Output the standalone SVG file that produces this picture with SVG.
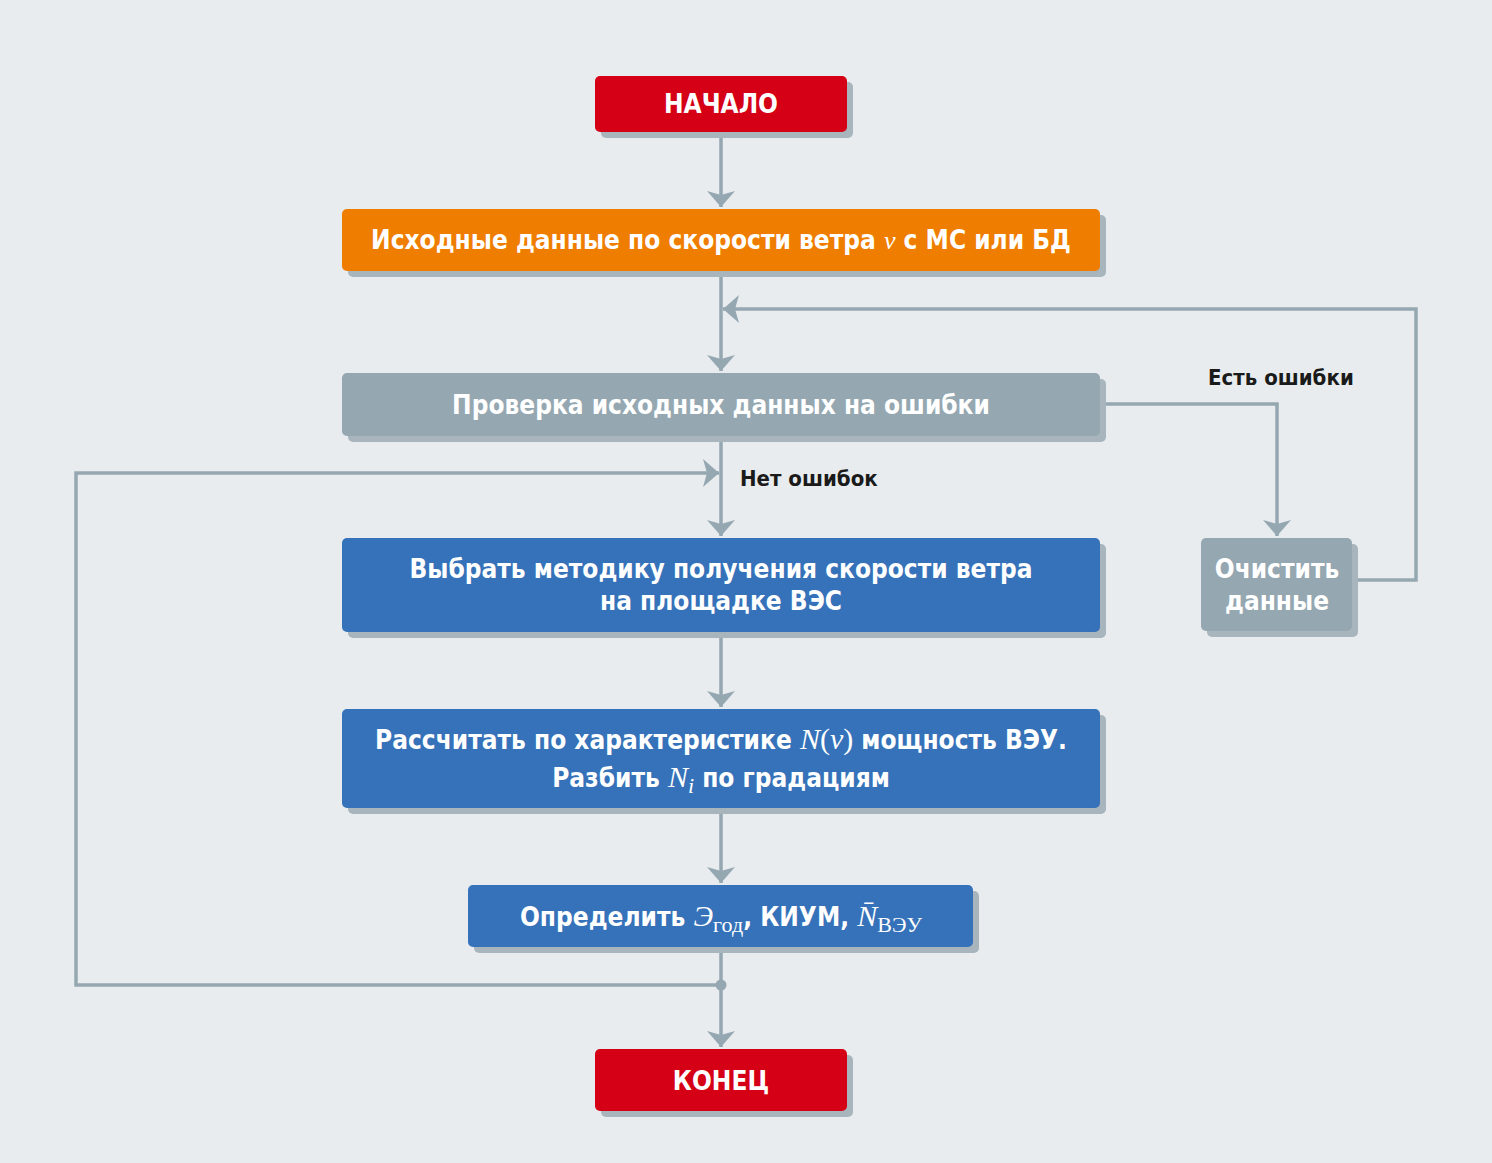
<svg xmlns="http://www.w3.org/2000/svg" width="1492" height="1163" viewBox="0 0 1492 1163">
<defs>
<style>
.sh{fill:#a9b5bd}
.t{font-family:"Liberation Sans Narrow","DejaVu Sans Condensed","Liberation Sans",sans-serif;font-weight:bold;fill:#fff;text-anchor:middle}
.m{font-family:"Liberation Serif",serif;font-weight:normal}
.l{font-family:"Liberation Sans Narrow","DejaVu Sans Condensed","Liberation Sans",sans-serif;font-weight:bold;fill:#1a1a1a;font-size:22px}
.c{stroke:#95a7b1;stroke-width:3.5;fill:none}
</style>
<marker id="a" viewBox="0 0 10 10" refX="10" refY="5" markerWidth="6" markerHeight="6" orient="auto" markerUnits="userSpaceOnUse"><path d="M0,0 L10,5 L0,10 z" fill="#95a7b1"/></marker>
<marker id="ah" viewBox="0 0 16 28" refX="16" refY="14" markerWidth="16" markerHeight="28" orient="auto" markerUnits="userSpaceOnUse"><path d="M0,0 L16,14 L0,28 L4,14 z" fill="#95a7b1"/></marker>
</defs>
<rect width="1492" height="1163" fill="#e8ecef"/>
<g id="connectors">
<path class="c" d="M721,132 V207" marker-end="url(#ah)"/>
<path class="c" d="M721,271 V371" marker-end="url(#ah)"/>
<path class="c" d="M1352,580 H1416 V309 H723" marker-end="url(#ah)"/>
<path class="c" d="M1100,404 H1277 V536" marker-end="url(#ah)"/>
<path class="c" d="M721,436 V536" marker-end="url(#ah)"/>
<path class="c" d="M721,985 H76 V473 H719" marker-end="url(#ah)"/>
<path class="c" d="M721,632 V707" marker-end="url(#ah)"/>
<path class="c" d="M721,808 V883" marker-end="url(#ah)"/>
<path class="c" d="M721,947 V1047" marker-end="url(#ah)"/>
<circle cx="721" cy="985" r="5.5" fill="#95a7b1"/>
<text class="l" x="740" y="486">Нет ошибок</text>
<text class="l" x="1208" y="385">Есть ошибки</text>
</g>
<g id="start"><rect class="sh" x="601" y="82" width="252" height="56" rx="5"/><rect x="595" y="76" width="252" height="56" rx="5" fill="#d50016"/><text class="t" x="721" y="113" font-size="26">НАЧАЛО</text></g>
<g id="input"><rect class="sh" x="348" y="215" width="758" height="62" rx="5"/><rect x="342" y="209" width="758" height="62" rx="5" fill="#ef7d00"/><text class="t" x="721" y="249" font-size="26">Исходные данные по скорости ветра <tspan class="m" font-style="italic">v</tspan> с МС или БД</text></g>
<g id="check"><rect class="sh" x="348" y="379" width="758" height="63" rx="5"/><rect x="342" y="373" width="758" height="63" rx="5" fill="#95a7b1"/><text class="t" x="721" y="414" font-size="26">Проверка исходных данных на ошибки</text></g>
<g id="clean"><rect class="sh" x="1207" y="544" width="151" height="93" rx="5"/><rect x="1201" y="538" width="151" height="93" rx="5" fill="#95a7b1"/><text class="t" x="1277" y="578" font-size="26">Очистить</text><text class="t" x="1277" y="610" font-size="26">данные</text></g>
<g id="method"><rect class="sh" x="348" y="544" width="758" height="94" rx="5"/><rect x="342" y="538" width="758" height="94" rx="5" fill="#3572b9"/><text class="t" x="721" y="578" font-size="26">Выбрать методику получения скорости ветра</text><text class="t" x="721" y="610" font-size="26">на площадке ВЭС</text></g>
<g id="calc"><rect class="sh" x="348" y="715" width="758" height="99" rx="5"/><rect x="342" y="709" width="758" height="99" rx="5" fill="#3572b9"/><text class="t" x="721" y="749" font-size="26">Рассчитать по характеристике <tspan class="m" font-style="italic" font-size="30">N</tspan><tspan class="m" font-size="30">(</tspan><tspan class="m" font-style="italic" font-size="30">v</tspan><tspan class="m" font-size="30">)</tspan> мощность ВЭУ.</text><text class="t" x="721" y="787" font-size="26">Разбить <tspan class="m" font-style="italic" font-size="30">N</tspan><tspan class="m" font-style="italic" font-size="22" dy="6">i</tspan><tspan dy="-6"> по градациям</tspan></text></g>
<g id="determine"><rect class="sh" x="474" y="891" width="505" height="62" rx="5"/><rect x="468" y="885" width="505" height="62" rx="5" fill="#3572b9"/><text class="t" x="721" y="926" font-size="26">Определить <tspan class="m" font-style="italic" font-size="30">Э</tspan><tspan class="m" font-size="22" dy="6">год</tspan><tspan dy="-6">, КИУМ, </tspan><tspan class="m" font-style="italic" font-size="30">N̄</tspan><tspan class="m" font-size="22" dy="6">ВЭУ</tspan></text></g>
<g id="end"><rect class="sh" x="601" y="1055" width="252" height="62" rx="5"/><rect x="595" y="1049" width="252" height="62" rx="5" fill="#d50016"/><text class="t" x="721" y="1090" font-size="26">КОНЕЦ</text></g>
</svg>
